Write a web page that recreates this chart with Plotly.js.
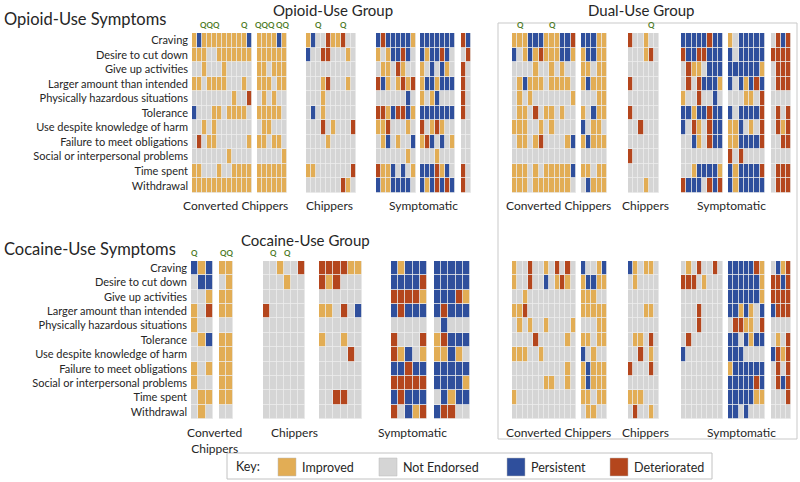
<!DOCTYPE html>
<html>
<head>
<meta charset="utf-8">
<script src="https://cdn.plot.ly/plotly-3.0.1.min.js"></script>
<style>html,body{margin:0;padding:0;background:#fff;}#chart{width:800px;height:482px;}</style>
</head>
<body>
<div id="chart"></div>
<script>
// ---------- DATA ----------
const symptoms = ["Craving","Desire to cut down","Give up activities","Larger amount than intended",
  "Physically hazardous situations","Tolerance","Use despite knowledge of harm","Failure to meet obligations",
  "Social or interpersonal problems","Time spent","Withdrawal"];
const cocaineSymptoms = ["Craving","Desire to cut down","Give up activities","Larger amount than intended",
  "Physically hazardous situations","Tolerance","Use despite knowledge of harm","Failure to meet obligations",
  "Social or interpersonal problems","Time spent","Withdrawal"];
// status codes: 0 = Not Endorsed, 1 = Improved, 2 = Persistent, 3 = Deteriorated
const statusNames = ["Not Endorsed","Improved","Persistent","Deteriorated"];
const keyOrder = [1,0,2,3];

// Opioid-Use Group (opioid symptoms)
const ogConvA = [[1,2,1,1,1,1,1,1,1,1,1,2],[1,1,1,0,0,1,1,1,1,1,1,1],[0,0,1,0,0,0,1,0,0,0,0,0],[1,1,0,1,1,1,1,0,0,0,1,0],[0,0,0,0,0,0,0,0,1,0,0,3],[2,0,0,0,1,1,0,1,1,1,1,0],[0,0,1,0,1,0,0,0,0,0,0,0],[0,3,0,1,1,0,0,0,0,0,0,1],[0,0,0,0,0,0,0,1,0,0,0,0],[1,1,0,0,0,1,0,0,1,1,1,1],[1,1,1,1,1,1,1,1,1,1,1,1]];
const ogConvB = [[1,1,1,1,2,1],[1,1,1,1,1,1],[1,1,0,1,1,1],[1,1,1,0,1,1],[0,1,0,1,0,0],[1,1,1,1,1,0],[0,1,1,0,0,0],[1,1,0,1,1,0],[0,0,0,0,0,1],[1,1,1,1,1,1],[1,1,1,1,1,1]];
const ogChip = [[1,2,0,0,3,1,1,3,0,0],[2,0,0,3,3,0,0,0,1,0],[0,0,0,0,0,0,0,0,0,0],[0,0,0,1,3,0,0,0,1,0],[0,0,0,1,0,0,0,0,0,0],[0,2,0,1,0,0,0,0,0,0],[0,0,0,3,0,1,0,0,0,3],[0,0,0,0,1,0,0,0,0,0],[0,0,0,0,0,0,0,0,0,0],[1,1,0,0,0,0,0,0,0,3],[0,0,0,0,0,0,0,3,1,0]];
const ogSymA = [[2,3,2,2,2,2,2,1],[1,0,1,2,2,3,2,0],[0,1,1,0,3,1,0,0],[3,2,1,0,1,3,1,3],[0,0,0,0,0,0,2,0],[3,3,1,2,3,3,2,1],[1,1,3,0,0,0,1,0],[0,1,2,0,1,0,0,2],[0,0,0,0,0,0,1,0],[3,1,1,2,0,2,0,1],[2,1,1,2,2,2,2,0]];
const ogSymB = [[2,2,2,2,2,2,2],[2,1,2,2,3,2,0],[1,0,2,0,2,1,0],[1,2,2,1,2,2,2],[1,0,1,2,0,0,0],[2,2,2,2,2,2,2],[3,0,1,3,1,0,0],[1,3,2,0,2,0,1],[0,0,0,1,0,0,0],[2,2,2,3,1,2,0],[2,1,2,3,2,3,2]];
const ogSymC = [[3,2],[0,3],[3,0],[3,0],[3,0],[3,0],[0,0],[0,0],[0,0],[3,0],[3,0]];

// Dual-Use Group (opioid symptoms)
const doConvA = [[1,1,1,2,2,2,1,1,1,2,2,3],[2,0,1,2,1,3,1,1,1,2,2,1],[0,0,0,0,1,0,0,1,0,1,0,0],[0,1,2,1,1,1,0,1,1,1,1,0],[0,1,0,1,0,0,0,0,0,0,0,1],[0,1,1,0,3,0,1,1,0,1,0,0],[1,1,1,0,0,1,0,1,0,0,0,0],[0,1,1,0,1,3,0,0,0,0,1,2],[0,0,0,0,0,0,0,0,0,0,0,0],[1,1,1,0,1,0,1,1,1,1,1,2],[1,1,1,0,1,1,1,1,1,1,1,0]];
const doConvB = [[2,2,2,1,1],[1,2,2,1,1],[1,1,0,1,1],[1,2,1,1,1],[0,0,0,1,1],[1,0,2,1,1],[2,0,1,1,0],[1,2,1,1,1],[0,0,0,0,0],[1,1,0,1,1],[0,2,1,1,1]];
const doChip = [[3,0,0,1,0,0],[0,0,0,1,3,0],[0,0,0,0,0,0],[3,0,0,0,0,0],[0,0,0,0,0,0],[3,0,0,0,0,0],[0,0,3,0,0,0],[0,0,0,0,0,0],[3,0,0,0,0,0],[0,0,0,0,0,0],[0,0,0,1,0,0]];
const doSymA = [[2,2,2,2,2,3,2,2],[3,2,2,3,3,2,2,2],[0,3,1,1,0,2,2,2],[0,3,0,3,2,2,2,1],[1,0,0,3,0,0,2,0],[2,2,1,2,2,3,2,2],[2,0,3,1,0,3,2,2],[0,0,2,1,0,3,2,2],[0,0,0,0,0,0,0,0],[0,0,1,2,2,2,2,1],[3,2,2,2,0,3,2,3]];
const doSymB = [[1,0,2,2,2,2,2],[2,0,2,2,2,2,2],[2,2,2,2,2,2,1],[2,0,2,1,2,3,2],[0,0,0,1,1,0,3],[2,0,2,2,2,2,3],[1,1,2,0,1,0,3],[1,1,2,2,2,2,3],[3,0,3,0,0,0,0],[2,1,2,2,2,2,3],[2,1,2,2,2,2,2]];
const doSymC = [[0,3,2,3],[3,3,3,3],[0,3,3,3],[0,3,3,3],[0,0,0,0],[0,3,0,3],[0,3,1,3],[0,0,3,3],[0,0,0,0],[0,3,3,3],[0,3,3,3]];

// Cocaine-Use Group (cocaine symptoms)
const cgConvA = [[2,1,2],[0,2,2],[0,0,1],[1,0,3],[1,0,0],[0,1,2],[0,0,0],[1,0,1],[1,0,0],[0,1,1],[0,1,0]];
const cgConvB = [[1,1],[0,1],[1,1],[1,1],[0,0],[1,1],[1,1],[1,1],[1,1],[1,1],[0,0]];
const cgChip = [[0,0,1,0,0,3],[0,0,0,1,0,0],[0,0,0,0,0,0],[3,0,0,0,0,0],[0,0,0,0,0,0],[0,0,0,0,0,0],[0,0,0,0,0,0],[0,0,0,0,0,0],[0,0,0,0,0,0],[0,0,0,0,0,0],[0,0,0,0,0,0]];
const cgSymA = [[3,3,3,3,1,1],[3,1,3,0,0,0],[0,0,0,0,0,0],[1,1,0,3,0,2],[0,0,0,0,0,0],[1,0,0,1,0,0],[0,0,0,0,3,0],[0,0,0,0,0,0],[0,0,0,0,0,0],[0,0,3,3,0,0],[0,0,0,0,0,0]];
const cgSymB = [[2,1,2,2,2],[2,2,2,2,3],[3,3,3,3,1],[2,3,2,2,2],[0,0,0,0,0],[3,0,0,0,3],[3,1,2,0,1],[2,2,3,2,2],[3,3,3,3,3],[2,3,2,2,2],[3,0,2,1,3]];
const cgSymC = [[2,2,2,2,2],[2,2,2,2,2],[2,2,2,3,1],[2,3,2,2,2],[0,2,0,0,0],[1,3,2,2,2],[1,1,2,1,0],[2,2,2,2,2],[2,2,2,2,1],[0,2,1,2,2],[2,3,3,0,0]];

// Dual-Use Group (cocaine symptoms)
const dcConvA = [[1,0,0,3,0,0,1,0,3,0,3,0],[1,0,0,3,0,0,2,0,1,3,1,0],[0,0,1,0,0,0,0,0,0,0,0,0],[1,1,3,0,0,0,0,0,0,0,0,0],[0,1,0,1,0,0,1,0,0,0,0,1],[0,0,0,0,3,0,0,0,0,0,1,0],[1,1,1,0,0,1,0,0,0,0,0,0],[0,0,0,0,0,0,0,0,0,0,1,0],[0,0,0,0,0,0,1,1,0,0,1,0],[1,0,0,0,0,0,0,0,0,0,0,0],[0,0,0,0,0,0,0,0,0,0,0,0]];
const dcConvB = [[2,0,0,1,2],[1,2,2,1,1],[1,1,1,0,0],[1,1,1,1,1],[0,0,0,1,1],[1,1,0,1,1],[2,0,1,0,0],[1,2,1,1,1],[1,2,1,1,1],[1,1,0,1,1],[0,1,1,0,0]];
const dcChip = [[2,1,0,1,1,0],[0,1,0,0,0,0],[0,0,0,0,0,0],[0,0,0,1,1,0],[0,0,0,0,0,0],[0,1,1,0,3,0],[0,0,3,0,1,0],[3,0,0,0,3,0],[0,0,0,0,0,0],[1,1,1,0,0,0],[0,3,0,0,1,0]];
const dcSymA = [[0,1,0,3,0,0,3,0],[3,3,3,0,1,0,0,0],[0,0,0,0,0,0,0,0],[0,0,0,3,0,0,0,0],[0,0,0,3,0,0,0,0],[0,3,0,0,0,0,0,0],[2,0,0,0,0,0,0,0],[0,0,0,0,0,0,0,0],[0,0,0,0,0,0,0,0],[0,0,0,0,0,0,0,0],[0,0,0,0,0,0,0,0]];
const dcSymB = [[2,2,2,2,2,3,1],[2,2,2,2,2,2,1],[2,2,2,2,2,2,1],[2,2,1,2,1,0,2],[0,3,3,1,1,0,3],[2,2,0,2,1,2,2],[2,2,2,0,0,0,0],[1,2,2,2,2,2,2],[2,2,2,2,2,3,2],[2,2,2,2,2,1,1],[2,2,0,2,0,0,0]];
const dcSymC = [[0,2,1,3],[3,3,2,3],[3,3,3,3],[2,3,3,3],[0,0,0,0],[0,1,0,3],[2,3,1,3],[0,3,0,3],[0,3,2,3],[0,0,0,3],[0,0,0,0]];

// "Q" markers (column indices)
const ogConvAQ = [2,3,4,10];
const ogConvBQ = [0,1,2,4,5];
const ogChipQ = [2,7];
const doConvAQ = [1,7];
const doChipQ = [4];
const cgConvAQ = [0];
const cgConvBQ = [0,1];
const cgChipQ = [1,3];
const qText = "Q";

// Text labels
const titleOpioidSym = "Opioid-Use Symptoms";
const titleCocaineSym = "Cocaine-Use Symptoms";
const groupTitles = ["Opioid-Use Group","Dual-Use Group","Cocaine-Use Group"];
const subLabels = ["Converted Chippers","Chippers","Symptomatic"];
const keyTitle = "Key:";

// ---------- STYLE / LAYOUT ----------
const W = 800, H = 482;
const colors = ["#d5d5d5","#e2ad55","#2f4f9c","#b4461d"];
const FONT = "Lato, 'Open Sans', sans-serif";
const textColor = "#262626";
const qColor = "#4f7d2a";
const px = x => x / W;
const py = y => 1 - y / H;

const rowOp = [33, 193];
const rowCo = [261, 419];

const blocks = [
  {z: ogConvA, q: ogConvAQ, x: [192, 252], r: "op"},
  {z: ogConvB, q: ogConvBQ, x: [257, 287], r: "op"},
  {z: ogChip,  q: ogChipQ,  x: [306, 356], r: "op"},
  {z: ogSymA,  q: [],       x: [376, 416], r: "op"},
  {z: ogSymB,  q: [],       x: [420, 455], r: "op"},
  {z: ogSymC,  q: [],       x: [461, 471], r: "op"},
  {z: doConvA, q: doConvAQ, x: [512, 576], r: "op"},
  {z: doConvB, q: [],       x: [581, 607], r: "op"},
  {z: doChip,  q: doChipQ,  x: [628, 659], r: "op"},
  {z: doSymA,  q: [],       x: [681, 723], r: "op"},
  {z: doSymB,  q: [],       x: [728, 765], r: "op"},
  {z: doSymC,  q: [],       x: [771, 791], r: "op"},
  {z: cgConvA, q: cgConvAQ, x: [191, 213], r: "co"},
  {z: cgConvB, q: cgConvBQ, x: [219, 233], r: "co"},
  {z: cgChip,  q: cgChipQ,  x: [263, 305], r: "co"},
  {z: cgSymA,  q: [],       x: [319, 362], r: "co"},
  {z: cgSymB,  q: [],       x: [391, 427], r: "co"},
  {z: cgSymC,  q: [],       x: [434, 470], r: "co"},
  {z: dcConvA, q: [],       x: [512, 576], r: "co"},
  {z: dcConvB, q: [],       x: [581, 607], r: "co"},
  {z: dcChip,  q: [],       x: [628, 659], r: "co"},
  {z: dcSymA,  q: [],       x: [681, 723], r: "co"},
  {z: dcSymB,  q: [],       x: [728, 765], r: "co"},
  {z: dcSymC,  q: [],       x: [771, 791], r: "co"}
];

const colorscale = [[0, colors[0]], [1/6, colors[0]], [1/6, colors[1]], [0.5, colors[1]],
                    [0.5, colors[2]], [5/6, colors[2]], [5/6, colors[3]], [1, colors[3]]];

const traces = [];
const layout = {
  width: W, height: H,
  margin: {l: 0, r: 0, t: 0, b: 0},
  paper_bgcolor: "#ffffff",
  plot_bgcolor: "#ededed",
  showlegend: false,
  font: {family: FONT, color: textColor},
  annotations: [],
  shapes: []
};

const yCommon = {
  type: "category",
  range: [10.5, -0.5],
  showgrid: false, zeroline: false, showline: false,
  ticks: "", ticklabelstandoff: 3,
  tickfont: {family: FONT, size: 11, color: textColor},
  fixedrange: true
};
layout.yaxis = Object.assign({}, yCommon, {domain: [py(rowOp[1]), py(rowOp[0])], anchor: "x", categoryarray: symptoms});
layout.yaxis2 = Object.assign({}, yCommon, {domain: [py(rowCo[1]), py(rowCo[0])], anchor: "x13", categoryarray: cocaineSymptoms});

// group consecutive Q columns into runs so adjacent letters are set as one word
function qRuns(cols) {
  const runs = [];
  cols.forEach(c => {
    const last = runs[runs.length - 1];
    if (last && c === last[last.length - 1] + 1) last.push(c); else runs.push([c]);
  });
  return runs;
}

blocks.forEach((b, i) => {
  const k = i + 1;
  const xName = "x" + (k === 1 ? "" : k);
  const axKey = "xaxis" + (k === 1 ? "" : k);
  const yName = b.r === "op" ? "y" : "y2";
  const ncol = b.z[0].length;
  const cols = Array.from({length: ncol}, (_, j) => j);
  traces.push({
    type: "heatmap",
    z: b.z,
    x: cols,
    y: b.r === "op" ? symptoms : cocaineSymptoms,
    xaxis: xName, yaxis: yName,
    zmin: 0, zmax: 3,
    colorscale: colorscale,
    showscale: false,
    xgap: 0.8, ygap: 0.8,
    hoverinfo: "skip"
  });
  layout[axKey] = {
    domain: [px(b.x[0]), px(b.x[1])],
    anchor: yName,
    range: [-0.5, ncol - 0.5],
    showgrid: false, zeroline: false, showline: false,
    showticklabels: false, ticks: "",
    fixedrange: true
  };
  const top = b.r === "op" ? rowOp[0] : rowCo[0];
  qRuns(b.q).forEach(run => {
    const mid = (run[0] + run[run.length - 1]) / 2;
    layout.annotations.push({
      text: "<b>" + run.map(() => qText).join("") + "</b>", xref: xName, yref: "paper",
      x: mid, y: py(top - 1), xanchor: "center", yanchor: "bottom",
      showarrow: false, font: {family: FONT, size: 8, color: qColor}
    });
  });
});

function ann(text, x, y, size, xanchor) {
  layout.annotations.push({
    text: text, xref: "paper", yref: "paper",
    x: px(x), y: py(y), xanchor: xanchor || "center", yanchor: "middle",
    showarrow: false, font: {family: FONT, size: size, color: textColor}
  });
}

// Titles
ann(titleOpioidSym, 2, 19, 16.5, "left");
ann(titleCocaineSym, 2, 249, 16.5, "left");
ann(groupTitles[0], 333, 10, 15);
ann(groupTitles[1], 641, 10, 15);
ann(groupTitles[2], 305, 240, 15);

// Subgroup labels
ann(subLabels[0], 235, 205, 12);
ann(subLabels[1], 329, 205, 12);
ann(subLabels[2], 423, 205, 12);
ann(subLabels[0], 558, 205, 12);
ann(subLabels[1], 645, 205, 12);
ann(subLabels[2], 731, 205, 12);
ann(subLabels[0].replace(" ", "<br>"), 214, 440, 12);
ann(subLabels[1], 294, 432, 12);
ann(subLabels[2], 412, 432, 12);
ann(subLabels[0], 558, 432, 12);
ann(subLabels[1], 645, 432, 12);
ann(subLabels[2], 741, 432, 12);

// Dual-use box
layout.shapes.push({type: "rect", xref: "paper", yref: "paper",
  x0: px(498), x1: px(797), y0: py(439), y1: py(23),
  line: {color: "#c9c9c9", width: 1}, fillcolor: "rgba(0,0,0,0)"});

// Key
layout.shapes.push({type: "rect", xref: "paper", yref: "paper",
  x0: px(227), x1: px(712), y0: py(479), y1: py(453),
  line: {color: "#c2c2c2", width: 1}, fillcolor: "rgba(0,0,0,0)"});
ann(keyTitle, 234, 466, 12.5, "left");
const keyX = [278, 379, 507, 610];
keyOrder.forEach((s, i) => {
  layout.shapes.push({type: "rect", xref: "paper", yref: "paper",
    x0: px(keyX[i]), x1: px(keyX[i] + 18), y0: py(476), y1: py(458),
    line: {color: "#bbbbbb", width: 0.5}, fillcolor: colors[s]});
  ann(statusNames[s], keyX[i] + 22, 467, 12.5, "left");
});

Plotly.newPlot("chart", traces, layout, {staticPlot: true, displayModeBar: false});
</script>
</body>
</html>
